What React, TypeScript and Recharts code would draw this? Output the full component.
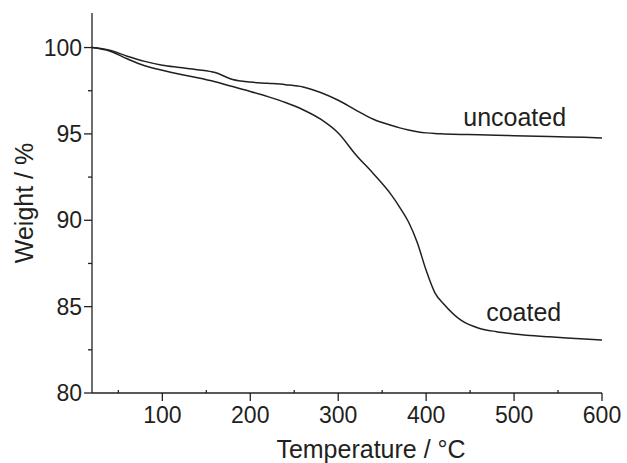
import { Label, Line, LineChart, ReferenceDot, XAxis, YAxis } from "recharts";

const INK = "#231f20";
const FONT = "'Liberation Sans', Arial, sans-serif";

const temps = [
  20, 40, 60, 80, 100, 120, 140, 160, 180, 200, 220, 240, 260, 280, 300, 320,
  340, 360, 370, 380, 390, 400, 410, 420, 440, 460, 480, 500, 540, 580, 600,
];
const uncoated = [
  100, 99.85, 99.5, 99.2, 98.98, 98.85, 98.72, 98.55, 98.15, 98.0, 97.93,
  97.85, 97.72, 97.4, 96.95, 96.38, 95.85, 95.5, 95.35, 95.23, 95.13, 95.06,
  95.02, 95.0, 94.97, 94.95, 94.92, 94.9, 94.85, 94.8, 94.77,
];
const coated = [
  100, 99.8, 99.35, 98.95, 98.68, 98.45, 98.25, 98.02, 97.74, 97.46, 97.16,
  96.82, 96.4, 95.85, 95.05, 93.8, 92.7, 91.5, 90.75, 89.9, 88.7, 87.1, 85.8,
  85.15, 84.2, 83.75, 83.55, 83.42, 83.25, 83.12, 83.07,
];
const xTicks = [50, 100, 150, 200, 250, 300, 350, 400, 450, 500, 550, 600];
const yTicks = [80, 82.5, 85, 87.5, 90, 92.5, 95, 97.5, 100];

const data = temps.map((t, i) => ({ t, uncoated: uncoated[i], coated: coated[i] }));

function XTick({ x, y, payload }: any) {
  const major = payload.value % 100 === 0;
  return (
    <g>
      <line
        x1={x}
        y1={y}
        x2={x}
        y2={major ? y + 8 : y - 3}
        stroke={INK}
        strokeWidth={1.3}
      />
      {major && (
        <text x={x} y={y + 30} textAnchor="middle" fontSize={23} fill={INK} fontFamily={FONT}>
          {payload.value}
        </text>
      )}
    </g>
  );
}

function YTick({ x, y, payload }: any) {
  const major = payload.value % 5 === 0;
  return (
    <g>
      <line x1={x} y1={y} x2={x - (major ? 8 : 4)} y2={y} stroke={INK} strokeWidth={1.3} />
      {major && (
        <text
          x={x - 10}
          y={y + 8}
          textAnchor="end"
          fontSize={23}
          fill={INK}
          fontFamily={FONT}
        >
          {payload.value}
        </text>
      )}
    </g>
  );
}

export default function App() {
  return (
    <div style={{ position: "absolute", left: 0, top: 0, background: "#fff" }}>
      <LineChart
        width={627}
        height={463}
        data={data}
        margin={{ top: 13, right: 25, left: 0, bottom: 0 }}
      >
        <XAxis
          dataKey="t"
          type="number"
          domain={[20, 600]}
          ticks={xTicks}
          interval={0}
          tickSize={0}
          tickMargin={0}
          tickLine={false}
          tick={<XTick />}
          height={70}
          stroke={INK}
          strokeWidth={1.3}
          allowDataOverflow
        >
          <Label
            content={({ viewBox }: any) => (
              <text
                x={viewBox.x + viewBox.width / 2 + 24}
                y={viewBox.y + 65}
                textAnchor="middle"
                fontSize={25}
                fill={INK}
                fontFamily={FONT}
              >
                Temperature / °C
              </text>
            )}
          />
        </XAxis>
        <YAxis
          type="number"
          domain={[80, 102]}
          ticks={yTicks}
          interval={0}
          tickSize={0}
          tickMargin={0}
          tickLine={false}
          tick={<YTick />}
          width={92}
          stroke={INK}
          strokeWidth={1.3}
          allowDataOverflow
        >
          <Label
            content={({ viewBox }: any) => {
              const cx = 33;
              const cy = viewBox.y + viewBox.height / 2;
              return (
                <text
                  x={cx}
                  y={cy}
                  transform={`rotate(-90 ${cx} ${cy})`}
                  textAnchor="middle"
                  fontSize={25}
                  fill={INK}
                  fontFamily={FONT}
                >
                  Weight / %
                </text>
              );
            }}
          />
        </YAxis>
        <Line
          type="monotone"
          dataKey="uncoated"
          stroke={INK}
          strokeWidth={1.5}
          dot={false}
          isAnimationActive={false}
        />
        <Line
          type="monotone"
          dataKey="coated"
          stroke={INK}
          strokeWidth={1.5}
          dot={false}
          isAnimationActive={false}
        />
        <ReferenceDot
          x={500.7}
          y={95.96}
          r={0}
          fill="none"
          stroke="none"
          label={{ value: "uncoated", position: "center", fontSize: 25, fill: INK, fontFamily: FONT }}
        />
        <ReferenceDot
          x={511}
          y={84.67}
          r={0}
          fill="none"
          stroke="none"
          label={{ value: "coated", position: "center", fontSize: 25, fill: INK, fontFamily: FONT }}
        />
      </LineChart>
    </div>
  );
}
